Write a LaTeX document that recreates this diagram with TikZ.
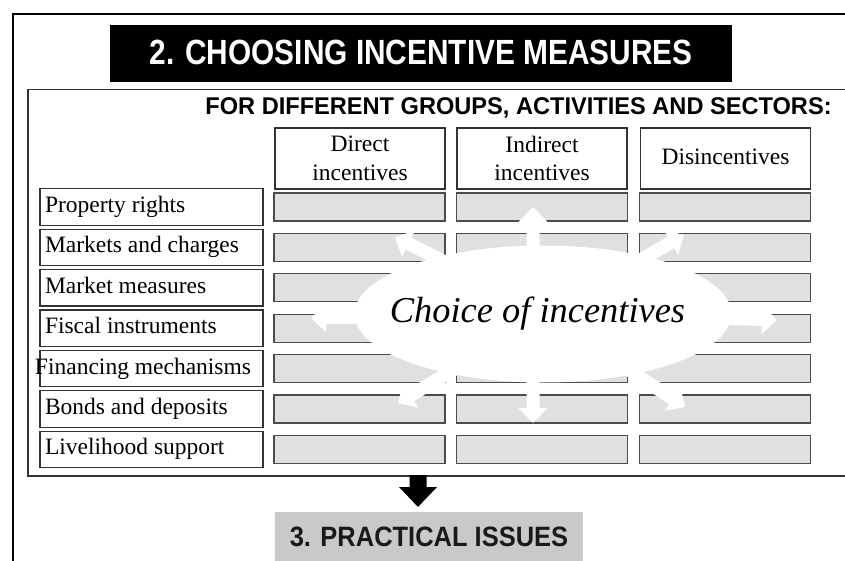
\documentclass[tikz,border=0pt]{standalone}
\usepackage{fontspec}
\usepackage{graphicx}
\setmainfont{Liberation Serif}
\newfontfamily\hsans{Liberation Sans}
\usetikzlibrary{shapes.geometric,calc}
% #1 colour, #2 start, #3 tip, #4 half shaft width, #5 half head width, #6 head length
\newcommand\blockarrow[6]{%
  \path ($(#3)!#6!(#2)$) coordinate (bah);
  \fill[#1] ($(#2)!#4!90:(#3)$) -- ($(bah)!#4!90:(#3)$) -- ($(bah)!#5!90:(#3)$) -- (#3)
    -- ($(bah)!#5!-90:(#3)$) -- ($(bah)!#4!-90:(#3)$) -- ($(#2)!#4!-90:(#3)$) -- cycle;}
\begin{document}
\begin{tikzpicture}[x=1pt,y=-1pt,
  framebox/.style={draw=black, line width=2.5pt, inner sep=0pt, anchor=north west},
  panelbox/.style={draw=black!80, line width=1.5pt, inner sep=0pt, anchor=north west},
  rowbox/.style={draw=black!80, line width=1.2pt, minimum width=223pt, minimum height=36.5pt,
    inner sep=0pt, text height=16pt, text depth=5pt, font=\fontsize{23.5}{28}\selectfont},
  headbox/.style={draw=black!80, line width=1.2pt, minimum width=170pt, minimum height=61pt,
    inner sep=0pt, align=center, font=\fontsize{23.5}{28.5}\selectfont},
  cellbox/.style={draw=black!70, fill=black!12, line width=1.3pt, minimum width=171pt,
    minimum height=28pt, inner sep=0pt},
  ellbox/.style={ellipse, fill=white, minimum width=377pt, minimum height=137pt, inner sep=0pt}
]
\useasboundingbox (0,0) rectangle (845,561);
\clip (0,0) rectangle (845,561);
\fill[white] (0,0) rectangle (845,561);

% outer frame and panel
\node[framebox, minimum width=900pt, minimum height=600pt] (frame) at (11.5,13) {};
\node[panelbox, minimum width=873pt, minimum height=386pt] (panel) at (27,89) {};

% title
\node[fill=black, minimum width=622pt, minimum height=57pt, inner sep=0pt] (title) at (421,53.5)
  {\raisebox{2pt}{\hsans\bfseries\fontsize{35}{40}\selectfont\color{white}\scalebox{0.852}[1]{2. CHOOSING INCENTIVE MEASURES}}};

% subtitle
\node[inner sep=0pt] (sub) at (518.5,107.6)
  {\hsans\bfseries\fontsize{24.2}{28}\selectfont\scalebox{0.975}[1]{FOR DIFFERENT GROUPS, ACTIVITIES AND SECTORS:}};

% column headers
\node[headbox] (hdir) at (360,158.5) {Direct\\incentives};
\node[headbox] (hind) at (542,158.5) {Indirect\\incentives};
\node[headbox] (hdis) at (725.5,158.5) {\raisebox{3pt}{Disincentives}};

% row labels
\foreach \i/\t in {1/{Property rights},2/{Markets and charges},3/{Market measures},
  4/{Fiscal instruments},5/{\hspace{-10pt}Financing mechanisms},6/{Bonds and deposits},
  7/{Livelihood support}}{
  \node[rowbox] (r\i) at (151.5,{207+40.4*(\i-1)}) {\makebox[213pt][l]{\t}};
}

% grey cells
\foreach \i in {1,...,7}{
  \foreach \j/\cx in {1/359.5,2/542,3/725}{
    \node[cellbox] (c\i\j) at (\cx,{207+40.4*(\i-1)}) {};
  }
}

% central ellipse
\node[ellbox] (ell) at (543,314)
  {\makebox[0pt]{\raisebox{-2pt}{\fontsize{36.4}{40}\selectfont\itshape Choice of incentives}\hspace{11pt}}};

% radial white arrows
\coordinate (tU) at (533,207);  \coordinate (sU) at ($(ell.north)+(-10,12)$);
\coordinate (tD) at (533,423);  \coordinate (sD) at ($(ell.south)+(-10,-12)$);
\coordinate (tL) at (311,318);  \coordinate (sL) at ($(ell.west)+(15,3)$);
\coordinate (tR) at (777,320);  \coordinate (sR) at ($(ell.east)+(-15,4)$);
\coordinate (tUL) at (395,237); \coordinate (sUL) at ($(ell.152)!12pt!(ell.center)$);
\coordinate (tUR) at (684,235); \coordinate (sUR) at ($(ell.29)!12pt!(ell.center)$);
\coordinate (tLL) at (398,403); \coordinate (sLL) at ($(ell.212)!12pt!(ell.center)$);
\coordinate (tLR) at (685,407); \coordinate (sLR) at ($(ell.327)!12pt!(ell.center)$);
\foreach \d in {U,D,L,R,UL,UR,LL,LR}{
  \blockarrow{white}{s\d}{t\d}{6.5pt}{14.5pt}{15pt}
}

% practical issues box
\node[fill=black!21, minimum width=308pt, minimum height=50pt, inner sep=0pt, anchor=north] (prac) at (429,512)
  {\hsans\bfseries\fontsize{28}{32}\selectfont\color{black!90}\scalebox{0.91}[1]{3. PRACTICAL ISSUES}};

% black arrow down from the panel to the practical issues box
\coordinate (aS) at (418,475);
\coordinate (aT) at ($(prac.north -| aS)+(0,-5)$);
\blockarrow{black}{aS}{aT}{8.5pt}{19pt}{20pt}
\end{tikzpicture}
\end{document}
